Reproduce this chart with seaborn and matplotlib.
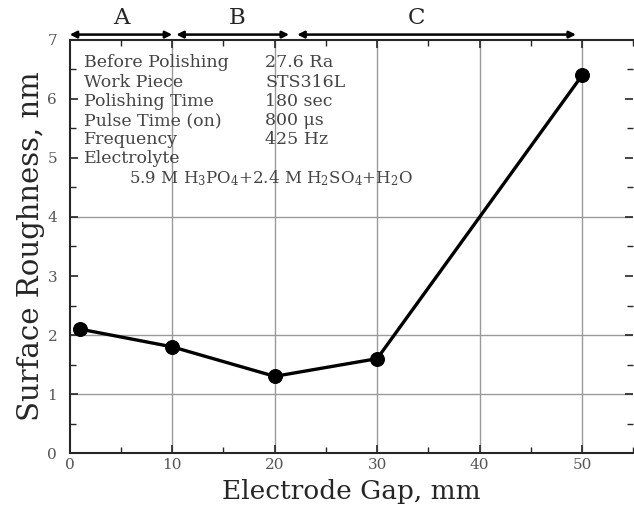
import numpy as np
import pandas as pd
import matplotlib
matplotlib.use("Agg")
import matplotlib.pyplot as plt
from matplotlib.ticker import MultipleLocator
import seaborn as sns

# data
gap_mm = [1, 10, 20, 30, 50]
roughness_nm = [2.1, 1.8, 1.3, 1.6, 6.4]

region_names = ["A", "B", "C"]
region_start = [0, 10.4, 22.2]
region_end = [10, 21.4, 49.4]
region_label_x = [5, 16.3, 33.8]

cond_names = ["Before Polishing", "Work Piece", "Polishing Time",
              "Pulse Time (on)", "Frequency", "Electrolyte"]
cond_values = ["27.6 Ra", "STS316L", "180 sec", "800 \u03bcs", "425 Hz", ""]
electrolyte = "5.9 M H$_3$PO$_4$+2.4 M H$_2$SO$_4$+H$_2$O"

df = pd.DataFrame({"gap": gap_mm, "ra": roughness_nm})

sns.set_style("ticks")
plt.rcParams["font.family"] = ["DejaVu Serif"]
plt.rcParams["mathtext.fontset"] = "dejavuserif"

fig = plt.figure(figsize=(6.34, 5.25), dpi=100)
ax = fig.add_axes([0.110, 0.137, 0.889, 0.787])

# grid lines as seen in the scan
for xv in [10, 20, 30, 40, 50]:
    ax.axvline(xv, color="#9a9a9a", lw=1.0, zorder=0)
for yv in [1, 2, 4]:
    ax.axhline(yv, color="#9a9a9a", lw=1.0, zorder=0)

sns.lineplot(data=df, x="gap", y="ra", ax=ax, color="black", lw=2.4,
             marker="o", markersize=10, markeredgecolor="black", zorder=3)

ax.set_xlim(0, 55)
ax.set_ylim(0, 7)
ax.xaxis.set_major_locator(MultipleLocator(10))
ax.xaxis.set_minor_locator(MultipleLocator(5))
ax.yaxis.set_major_locator(MultipleLocator(1))
ax.yaxis.set_minor_locator(MultipleLocator(0.5))
ax.tick_params(which="both", direction="in", top=True, right=True,
               labelsize=11, labelcolor="#555555")
ax.tick_params(axis="y", pad=9)
ax.tick_params(which="major", length=6, width=1.2)
ax.tick_params(which="minor", length=4, width=1.0)
for s in ["left", "bottom", "top"]:
    ax.spines[s].set_linewidth(1.5)
ax.spines["right"].set_visible(False)

ax.set_xlabel("Electrode Gap, mm", fontsize=19, labelpad=5)
ax.set_ylabel("Surface Roughness, nm", fontsize=21, labelpad=2)

# region arrows above the plot
for name, x0, x1, xl in zip(region_names, region_start, region_end, region_label_x):
    ax.annotate("", xy=(x1, 7.09), xytext=(x0, 7.09), xycoords="data",
                arrowprops=dict(arrowstyle="<|-|>", color="black", lw=1.8,
                                mutation_scale=10, shrinkA=0, shrinkB=0),
                annotation_clip=False)
    ax.text(xl, 7.19, name, ha="center", va="bottom",
            fontsize=16.5, clip_on=False)

# process conditions
y0 = 6.61
dy = 0.325
for i, (n, v) in enumerate(zip(cond_names, cond_values)):
    ax.text(1.4, y0 - i * dy, n, fontsize=12.5, color="#444444", va="center")
    ax.text(19.1, y0 - i * dy, v, fontsize=12.5, color="#444444", va="center")
ax.text(5.8, y0 - 6 * dy, electrolyte, fontsize=12, color="#444444",
        va="center")

fig.savefig("out.png", dpi=100)
